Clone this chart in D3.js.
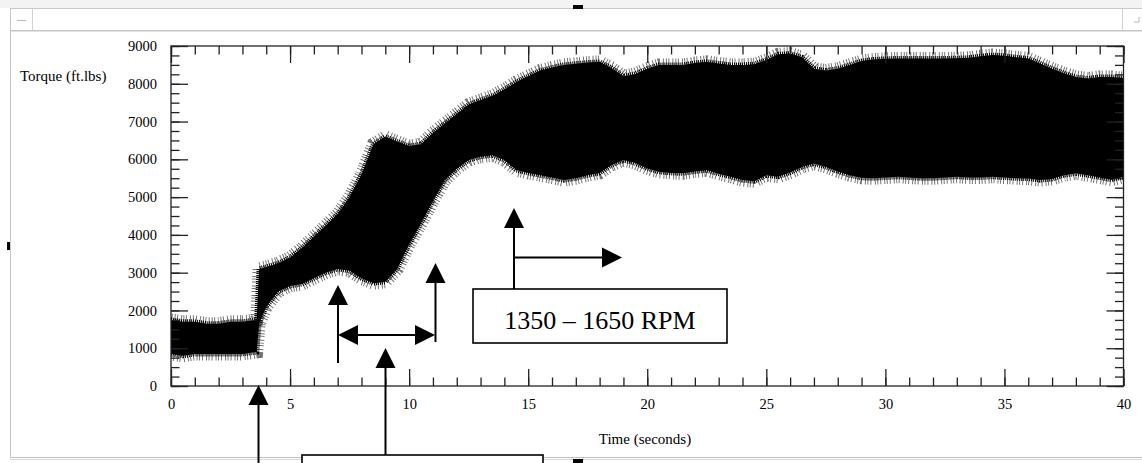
<!DOCTYPE html>
<html>
<head>
<meta charset="utf-8">
<script src="https://cdn.jsdelivr.net/npm/d3@7"></script>
<style>
  body { margin: 0; background: #fff; }
  svg { display: block; }
  text { font-family: "Liberation Serif", "Times New Roman", serif; fill: #000; }
</style>
</head>
<body>
<div id="chart"></div>
<script>
// time samples (seconds)
const times = [0, 0.5, 1, 1.5, 2, 2.5, 3, 3.6, 3.7, 4, 4.5, 5, 5.5, 6, 6.5, 7, 7.5, 8, 8.5, 9, 9.5,
  10, 10.5, 11, 11.5, 12, 12.5, 13, 13.5, 14, 14.5, 15, 15.5, 16, 16.5, 17, 17.5, 18, 18.5, 19, 19.5,
  20, 20.5, 21, 21.5, 22, 22.5, 23, 23.5, 24, 24.5, 25, 25.5, 26, 26.5, 27, 27.5, 28, 28.5, 29, 29.5,
  30, 30.5, 31, 31.5, 32, 32.5, 33, 33.5, 34, 34.5, 35, 35.5, 36, 36.5, 37, 37.5, 38, 38.5, 39, 39.5, 40];

// upper edge of the torque band (ft.lbs)
const torqueHigh = [1750, 1700, 1700, 1650, 1650, 1700, 1700, 1750, 3100, 3150, 3250, 3400, 3650, 3950, 4250, 4550, 5000, 5600, 6400, 6600, 6470,
  6350, 6400, 6700, 6950, 7200, 7450, 7570, 7680, 7850, 8050, 8200, 8350, 8430, 8500, 8530, 8560, 8580, 8420, 8200, 8260,
  8400, 8500, 8500, 8500, 8550, 8580, 8540, 8500, 8500, 8520, 8630, 8780, 8800, 8700, 8400, 8350, 8400, 8500, 8600, 8640,
  8660, 8670, 8670, 8670, 8670, 8670, 8675, 8690, 8730, 8760, 8740, 8700, 8670, 8540, 8400, 8280, 8180, 8140, 8180, 8180, 8150];

// lower edge of the torque band (ft.lbs)
const torqueLow = [850, 800, 850, 850, 850, 850, 850, 900, 1650, 2100, 2500, 2650, 2700, 2850, 3000, 3100, 3050, 2850, 2720, 2760, 3100,
  3750, 4300, 4900, 5450, 5750, 5980, 6070, 6110, 5980, 5720, 5640, 5580, 5520, 5450, 5500, 5580, 5640, 5850, 5980, 5900,
  5760, 5670, 5640, 5630, 5680, 5710, 5620, 5540, 5450, 5420, 5580, 5540, 5650, 5800, 5890, 5800, 5680, 5580, 5510, 5500,
  5520, 5540, 5520, 5500, 5500, 5520, 5540, 5520, 5520, 5540, 5520, 5500, 5490, 5450, 5480, 5580, 5630, 5580, 5520, 5460, 5540];

const xMajor = [0, 5, 10, 15, 20, 25, 30, 35, 40];
const yMajor = [0, 1000, 2000, 3000, 4000, 5000, 6000, 7000, 8000, 9000];

const width = 1142, height = 463;
const margin = { top: 46, right: 18, bottom: 77, left: 171 };

const svg = d3.select('#chart')
  .append('svg')
  .attr('width', width)
  .attr('height', height);

// --- finestra (cornice grigia) ---
svg.append('rect').attr('x', 0).attr('y', 0).attr('width', width).attr('height', 8).attr('fill', '#f3f3f3');
svg.append('line').attr('x1', 10).attr('x2', width).attr('y1', 8.5).attr('y2', 8.5).attr('stroke', '#c8c8c8');
svg.append('line').attr('x1', 10).attr('x2', width).attr('y1', 30.5).attr('y2', 30.5).attr('stroke', '#c4c4c4');
svg.append('line').attr('x1', 10).attr('x2', width).attr('y1', 31.5).attr('y2', 31.5).attr('stroke', '#e2e2e2');
svg.append('line').attr('x1', 10.5).attr('x2', 10.5).attr('y1', 8).attr('y2', 458).attr('stroke', '#c8c8c8');
svg.append('line').attr('x1', 32.5).attr('x2', 32.5).attr('y1', 9).attr('y2', 30).attr('stroke', '#d0d0d0');
svg.append('line').attr('x1', 1122.5).attr('x2', 1122.5).attr('y1', 9).attr('y2', 30).attr('stroke', '#d0d0d0');
svg.append('line').attr('x1', 17).attr('x2', 26).attr('y1', 20.5).attr('y2', 20.5).attr('stroke', '#b8b8b8');
svg.append('path').attr('d', 'M1139,17 L1139,22 L1134,22').attr('fill', 'none').attr('stroke', '#b8b8b8');
svg.append('line').attr('x1', 10).attr('x2', width).attr('y1', 457.5).attr('y2', 457.5).attr('stroke', '#c0c0c0');
svg.append('line').attr('x1', 10).attr('x2', width).attr('y1', 459.5).attr('y2', 459.5).attr('stroke', '#d8d8d8');
// maniglie nere
svg.append('rect').attr('x', 573).attr('y', 5).attr('width', 10).attr('height', 4).attr('fill', '#000');
svg.append('rect').attr('x', 7).attr('y', 242).attr('width', 3).attr('height', 8).attr('fill', '#000');
svg.append('rect').attr('x', 573).attr('y', 459).attr('width', 10).attr('height', 4).attr('fill', '#000');

// scale
const x = d3.scaleLinear().domain([0, 40]).range([margin.left, width - margin.right - 0.5]);
const y = d3.scaleLinear().domain([0, 9000]).range([height - margin.bottom, margin.top]);
const x0 = x(0), x1 = x(40), y0 = y(0), y1 = y(9000);

svg.append('clipPath').attr('id', 'plot-clip')
  .append('rect').attr('x', x0).attr('y', y1).attr('width', x1 - x0).attr('height', y0 - y1);

const band = times.map((t, i) => ({ t: t, hi: torqueHigh[i], lo: torqueLow[i] }));

const area = d3.area()
  .x(d => x(d.t))
  .y0(d => y(d.lo))
  .y1(d => y(d.hi));

const sig = svg.append('g').attr('clip-path', 'url(#plot-clip)');

// bordo tratteggiato spesso: da' l'effetto delle punte verticali del segnale
sig.append('path')
  .datum(band)
  .attr('d', area)
  .attr('fill', 'none')
  .attr('stroke', '#000')
  .attr('stroke-opacity', 0.55)
  .attr('stroke-width', 13)
  .attr('stroke-dasharray', '1,2,1,1.5,1,3');

sig.append('path')
  .datum(band)
  .attr('d', area)
  .attr('fill', 'none')
  .attr('stroke', '#000')
  .attr('stroke-width', 5)
  .attr('stroke-dasharray', '1,1');

sig.append('path')
  .datum(band)
  .attr('d', area)
  .attr('fill', '#000');

// assi: tacche verso l'interno
const ax = svg.append('g').attr('stroke-width', 1.3);

ax.append('g').attr('transform', `translate(0,${y0})`)
  .call(d3.axisBottom(x).tickValues(d3.range(0, 41, 1)).tickSize(-8.5).tickFormat(''));
ax.append('g').attr('transform', `translate(0,${y0})`)
  .call(d3.axisBottom(x).tickValues(xMajor).tickSize(-17).tickPadding(13).tickFormat(d3.format('d')));
ax.append('g').attr('transform', `translate(0,${y1})`)
  .call(d3.axisTop(x).tickValues(d3.range(0, 41, 1)).tickSize(-8.5).tickFormat(''));
ax.append('g').attr('transform', `translate(0,${y1})`)
  .call(d3.axisTop(x).tickValues(xMajor).tickSize(-17).tickFormat(''));
ax.append('g').attr('transform', `translate(${x0},0)`)
  .call(d3.axisLeft(y).tickValues(d3.range(0, 9001, 250)).tickSize(-8.5).tickFormat(''));
ax.append('g').attr('transform', `translate(${x0},0)`)
  .call(d3.axisLeft(y).tickValues(yMajor).tickSize(-17).tickPadding(14).tickFormat(d3.format('d')));
ax.append('g').attr('transform', `translate(${x1},0)`)
  .call(d3.axisRight(y).tickValues(d3.range(0, 9001, 250)).tickSize(-8.5).tickFormat(''));
ax.append('g').attr('transform', `translate(${x1},0)`)
  .call(d3.axisRight(y).tickValues(yMajor).tickSize(-17).tickFormat(''));

ax.selectAll('.domain').remove();
ax.selectAll('line').attr('stroke', '#222');
ax.selectAll('text')
  .style('font-family', '"Liberation Serif", serif')
  .style('font-size', '14.5px')
  .attr('fill', '#000');

ax.append('rect')
  .attr('x', x0).attr('y', y1)
  .attr('width', x1 - x0).attr('height', y0 - y1)
  .attr('fill', 'none').attr('stroke', '#222');

// etichette assi
svg.append('text').attr('x', 20).attr('y', 81).style('font-size', '15px').text('Torque (ft.lbs)');
svg.append('text').attr('x', 645).attr('y', 444).attr('text-anchor', 'middle').style('font-size', '15px').text('Time (seconds)');

// --- annotazioni (frecce e riquadri) ---
const ann = svg.append('g').attr('stroke', '#000').attr('stroke-width', 2).attr('fill', 'none');

function arrowUp(xp, yTip, yEnd) {
  ann.append('line').attr('x1', xp).attr('x2', xp).attr('y1', yTip + 10).attr('y2', yEnd);
  ann.append('path')
    .attr('d', `M${xp},${yTip} L${xp - 10},${yTip + 20} L${xp + 10},${yTip + 20} Z`)
    .attr('fill', '#000').attr('stroke', 'none');
}
function headH(xTip, yp, dir) {
  ann.append('path')
    .attr('d', `M${xTip},${yp} L${xTip - dir * 20},${yp - 10} L${xTip - dir * 20},${yp + 10} Z`)
    .attr('fill', '#000').attr('stroke', 'none');
}

// riquadro in basso (tagliato dal bordo)
ann.append('rect').attr('x', 302).attr('y', 455).attr('width', 241).attr('height', 30)
  .attr('fill', '#fff').attr('stroke-width', 1.6);

arrowUp(258.5, 385, 470);
arrowUp(385.5, 348, 455);
arrowUp(338, 285, 363);
arrowUp(435.5, 263, 342);

// freccia doppia orizzontale
ann.append('line').attr('x1', 348).attr('x2', 425).attr('y1', 335).attr('y2', 335);
headH(338, 335, -1);
headH(435, 335, 1);

// 1350 - 1650 RPM
arrowUp(514, 208, 289);
ann.append('line').attr('x1', 514).attr('x2', 612).attr('y1', 257.5).attr('y2', 257.5);
headH(622, 257.5, 1);

ann.append('rect').attr('x', 473).attr('y', 289).attr('width', 254).attr('height', 54)
  .attr('fill', '#fff').attr('stroke-width', 1.6);
svg.append('text').attr('x', 600).attr('y', 329).attr('text-anchor', 'middle')
  .style('font-size', '26px').text('1350 \u2013 1650 RPM');
</script>
</body>
</html>
